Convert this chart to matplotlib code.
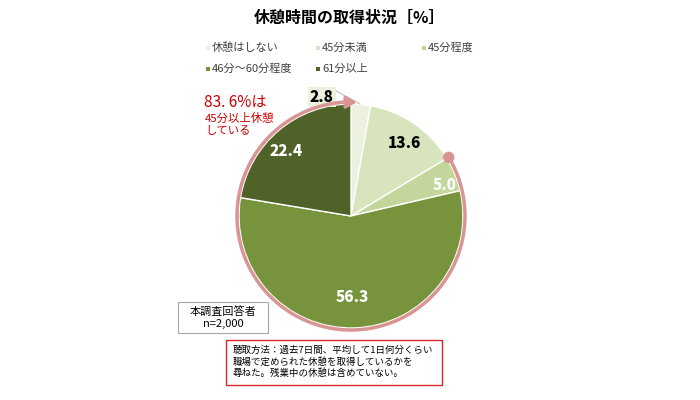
import numpy as np
import matplotlib
matplotlib.use("Agg")
import matplotlib.pyplot as plt
from matplotlib.patches import Rectangle, Circle

plt.rcParams['font.family'] = ['Noto Sans CJK JP', 'DejaVu Sans']

# ---- data ----
categories = ["休憩はしない", "45分未満", "45分程度", "46分～60分程度", "61分以上"]
values = [2.8, 13.6, 5.0, 56.3, 22.4]
colors = ["#ebf1de", "#d7e4bd", "#c3d69b", "#77933c", "#4f6228"]
label_colors = ["black", "black", "white", "white", "white"]
title = "休憩時間の取得状況［%］"
note_red = ["83. 6%は", "45分以上休憩", "している"]
sample_text = "本調査回答者\nn=2,000"
method_text = ("聴取方法：過去7日間、平均して1日何分くらい\n"
               "職場で定められた休憩を取得しているかを\n"
               "尋ねた。残業中の休憩は含めていない。")

W, H = 700, 400
fig = plt.figure(figsize=(7, 4), dpi=100)
ax = fig.add_axes([0, 0, 1, 1])

def Y(y):
    return H - y

cx, cy, R = 351, Y(216), 112

wedges, _ = ax.pie(values, colors=colors, startangle=90, counterclock=False,
                   center=(cx, cy), radius=R, frame=True,
                   wedgeprops=dict(edgecolor='white', linewidth=1.0))
ax.set_xlim(0, W)
ax.set_ylim(0, H)
ax.set_aspect('auto')
ax.axis('off')

# value labels
label_pos = [(322, 97), (404, 143), (445, 185), (352, 297), (286, 152)]
for i, (v, (x, y)) in enumerate(zip(values, label_pos)):
    if i == 0:
        ax.text(x, Y(y), f"{v:.1f}", ha='center', va='center', fontsize=11,
                fontweight='heavy', color=label_colors[i],
                bbox=dict(boxstyle='square,pad=0.15', facecolor=colors[0], edgecolor='none'))
        ax.plot([336, 360], [Y(91), Y(104)], color='#bfbfbf', lw=0.8)
    else:
        ax.text(x, Y(y), f"{v:.1f}", ha='center', va='center', fontsize=11,
                fontweight='heavy', color=label_colors[i])

# pink arc for 45+ minutes
ring_col = '#d99594'
start_share = sum(values[:2]) / 100.0
a_start = 90 - 360 * start_share            # dot angle
a_end = 90 - 360 + 3                         # near top
th = np.radians(np.linspace(a_start, a_end, 300))
Rr = R + 2
ax.plot(cx + Rr * np.cos(th), cy + Rr * np.sin(th), color=ring_col, lw=2.5,
        solid_capstyle='butt', zorder=3)
ax.add_patch(Circle((cx + Rr * np.cos(np.radians(a_start)), cy + Rr * np.sin(np.radians(a_start))),
                    5, color=ring_col, zorder=4))
t1, t2 = np.radians(a_end), np.radians(a_end - 6)
ax.annotate('', xy=(cx + Rr * np.cos(t2), cy + Rr * np.sin(t2)),
            xytext=(cx + Rr * np.cos(t1), cy + Rr * np.sin(t1)),
            arrowprops=dict(arrowstyle='-|>,head_length=0.6,head_width=0.35',
                            color=ring_col, lw=2.5, shrinkA=0, shrinkB=0), zorder=4)

# title
ax.text(350, Y(18), title, ha='center', va='center', fontsize=11.5, fontweight='bold', color='black')

# legend
leg_pos = [(212, 48), (322, 48), (428, 48), (212, 69), (322, 69)]
for c, lab, (x, y) in zip(colors, categories, leg_pos):
    ax.add_patch(Rectangle((x - 6, Y(y) - 2), 4, 4, facecolor=c, edgecolor='none'))
    ax.text(x, Y(y), lab, ha='left', va='center', fontsize=8, color='#404040')

# red note
ax.text(204, Y(102), note_red[0], ha='left', va='center', fontsize=11, color='#cc0000')
ax.text(205, Y(118), note_red[1], ha='left', va='center', fontsize=8.2, color='#cc0000')
ax.text(205, Y(131), note_red[2], ha='left', va='center', fontsize=8.2, color='#cc0000')

# sample box
ax.add_patch(Rectangle((178, Y(333)), 90, 31, facecolor='white', edgecolor='#a6a6a6', lw=0.8))
ax.text(223, Y(317.5), sample_text, ha='center', va='center', fontsize=8,
        color='black', linespacing=1.15)

# method box
ax.add_patch(Rectangle((226, Y(385)), 216, 45, facecolor='white', edgecolor='#d9262c', lw=1.0))
ax.text(233, Y(362), method_text, ha='left', va='center', fontsize=6.8,
        color='black', linespacing=1.25)

fig.savefig('out.png', dpi=100)
